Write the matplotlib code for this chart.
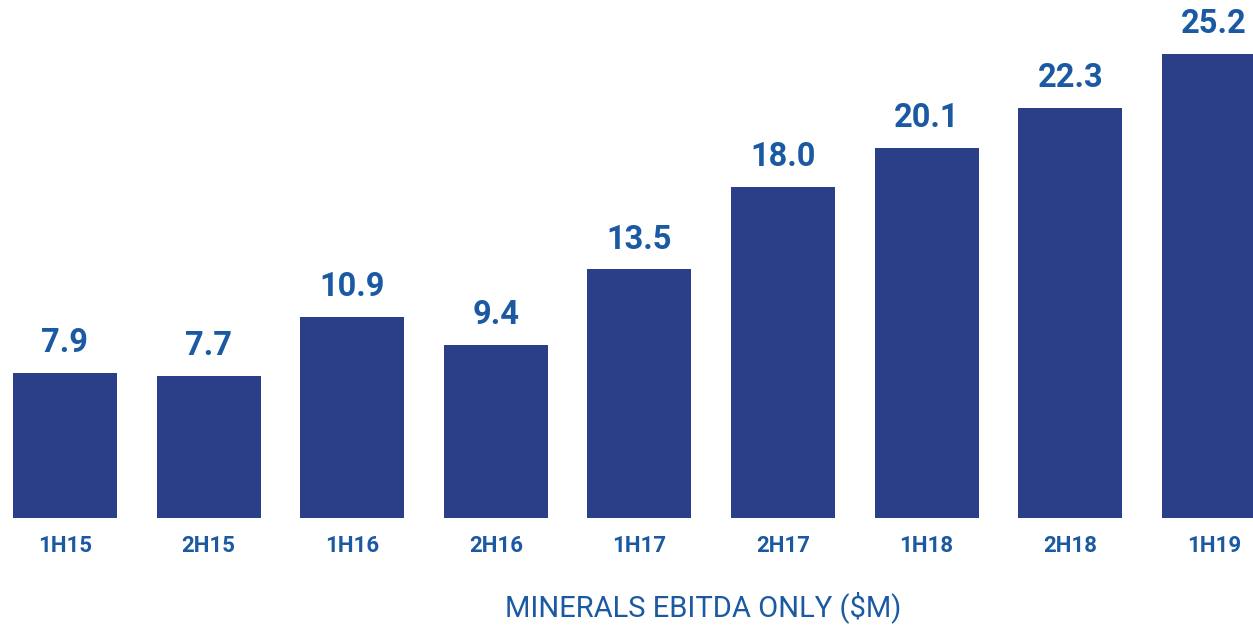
import matplotlib
matplotlib.use("Agg")
import matplotlib.pyplot as plt

periods = ["1H15", "2H15", "1H16", "2H16", "1H17", "2H17", "1H18", "2H18", "1H19"]
ebitda = [7.9, 7.7, 10.9, 9.4, 13.5, 18.0, 20.1, 22.3, 25.2]

bar_color = "#2a3f88"
text_color = "#1b5aa3"

fig = plt.figure(figsize=(12.53, 6.27), dpi=100)
ax = fig.add_axes([0, 109 / 627, 1, 518 / 627])

x = range(len(periods))
bars = ax.bar(x, ebitda, width=0.724, color=bar_color)

for xi, v in zip(x, ebitda):
    ax.annotate(f"{v:.1f}", (xi, v), xytext=(0, 10), textcoords="offset points",
                ha="center", va="bottom", fontsize=23.5, fontweight="bold",
                color=text_color, family="Roboto")

ax.set_xlim(-0.4526, 8.273)
ax.set_ylim(0, 28.14)
ax.set_xticks(list(x))
ax.set_xticklabels(periods, fontsize=16, fontweight="bold", color=text_color, family="Roboto")
ax.tick_params(axis="x", length=0, pad=12)
ax.set_yticks([])
for s in ax.spines.values():
    s.set_visible(False)

fig.text(703 / 1253, 1 - 607 / 627, "MINERALS EBITDA ONLY ($M)", ha="center", va="center",
         fontsize=21, color=text_color, family="Roboto")

fig.savefig("out.png", dpi=100)
